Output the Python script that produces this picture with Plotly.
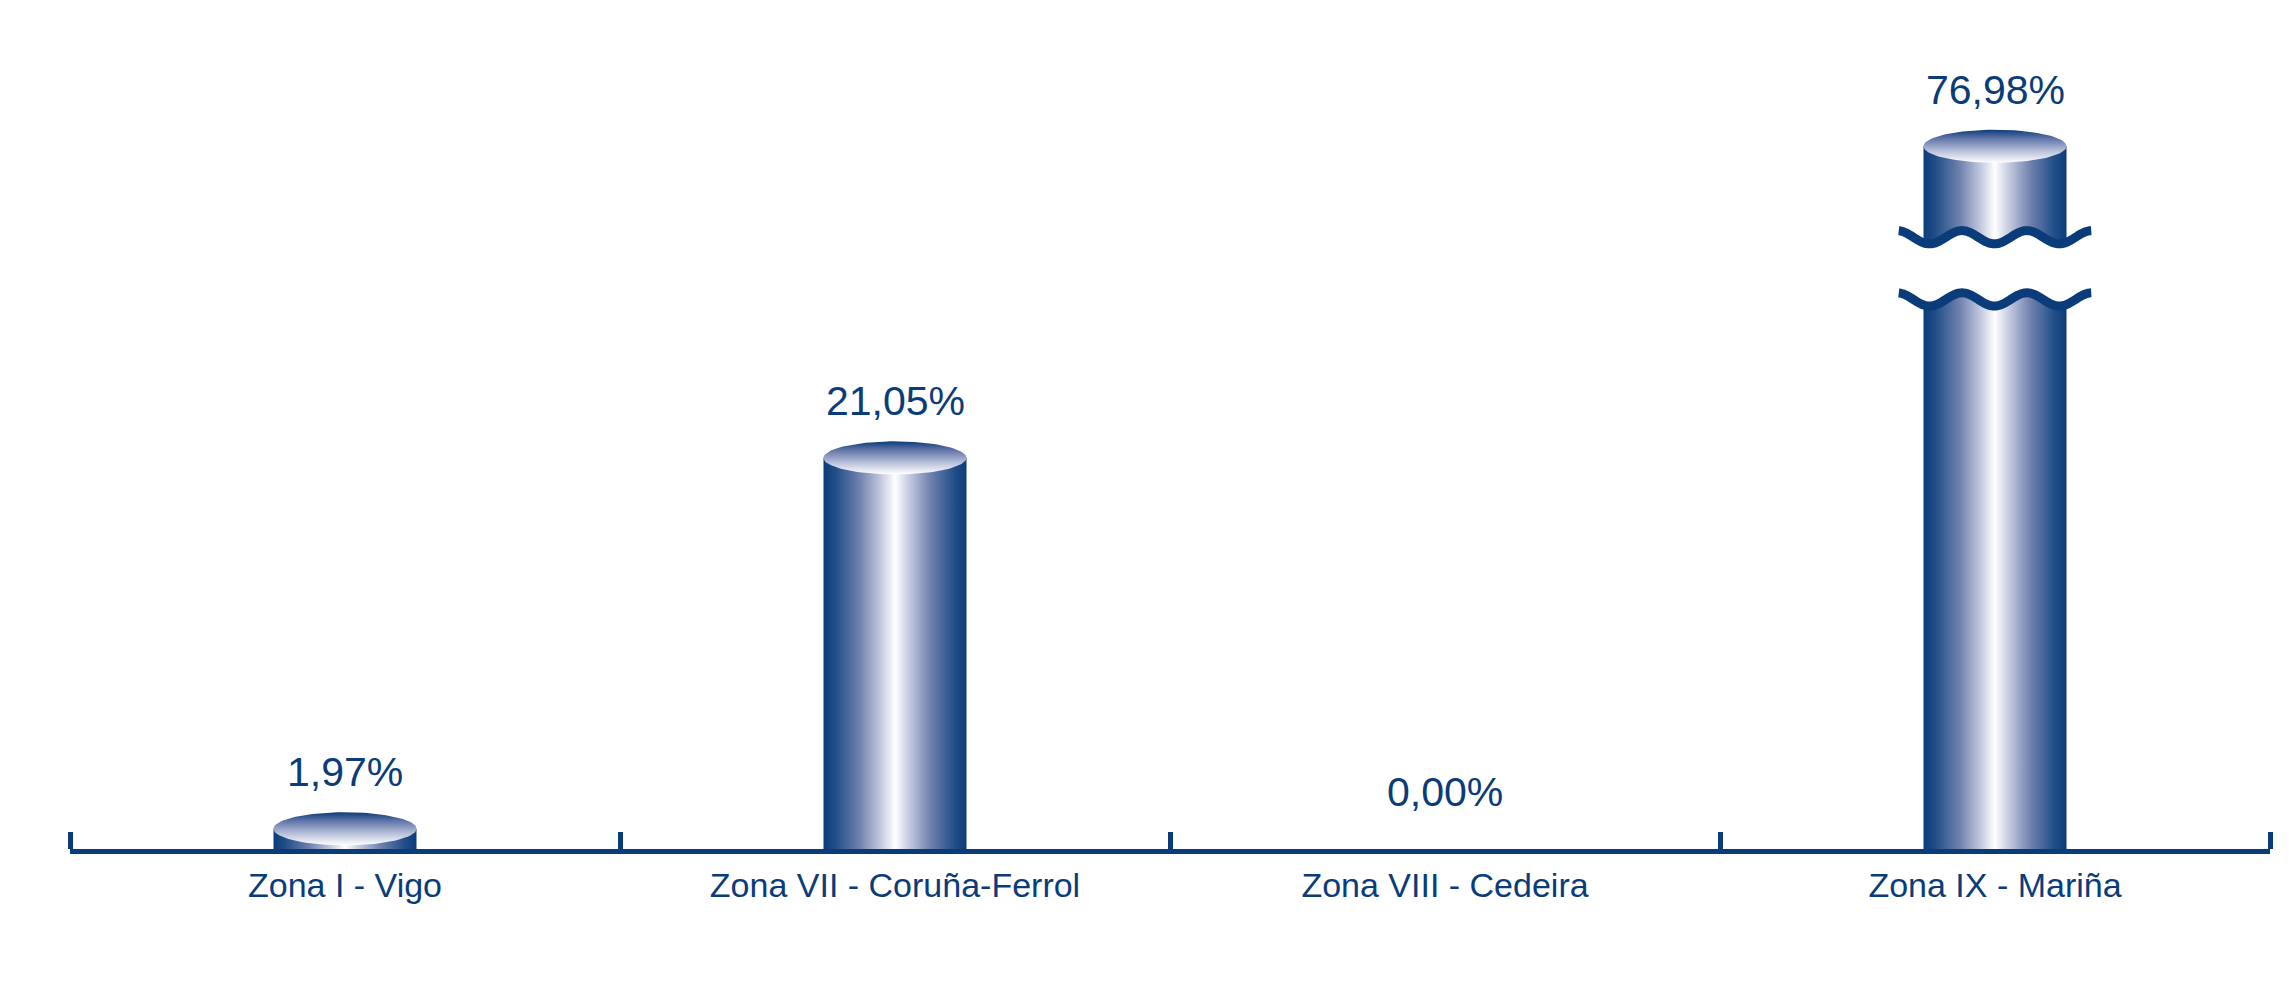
import numpy as np
import plotly.graph_objects as go

# ---- data ----
categories = ["Zona I - Vigo", "Zona VII - Coruña-Ferrol", "Zona VIII - Cedeira", "Zona IX - Mariña"]
values = [1.97, 21.05, 0.00, 76.98]
value_labels = ["1,97%", "21,05%", "0,00%", "76,98%"]

# ---- style / geometry constants ----
DARK = "#0B3C7A"
BREAK_FROM = 29.2      # real value where the broken segment starts
BREAK_TO = 72.3        # real value where the broken segment ends
GAP = 3.2              # plotted height of the gap between the wave lines
SHIFT = BREAK_TO - (BREAK_FROM + GAP)
HALF_W = 0.13          # cylinder half width (category units)
ELL_H = 0.85           # half height of the top ellipse (y units)
WAVE_HALF_W = 0.175
WAVE_AMP = 0.34
WAVE_PERIOD = 0.118

Y0 = 0.93
K = 19.44
PLOT_H = 829

def plot_y(v):
    return v if v <= BREAK_FROM else v - SHIFT

side_scale = [[0.0, DARK], [0.08, "#1F4D87"], [0.25, "#6F80AD"], [0.40, "#C3C9DF"],
              [0.50, "#FFFFFF"], [0.60, "#C3C9DF"], [0.75, "#6F80AD"], [0.92, "#1F4D87"], [1.0, DARK]]
top_scale = [[0.0, "#FFFFFF"], [0.35, "#B9C1DB"], [0.75, "#5D72A6"], [1.0, DARK]]

fig = go.Figure()
t = np.linspace(0, 2 * np.pi, 121)
xs = np.arange(len(categories))

for i, v in enumerate(values):
    if v <= 0:
        continue
    yt = plot_y(v)
    cx = xs[i]
    # cylinder body
    fig.add_trace(go.Scatter(
        x=[cx - HALF_W, cx + HALF_W, cx + HALF_W, cx - HALF_W, cx - HALF_W],
        y=[0, 0, yt, yt, 0], mode="lines", line=dict(width=0),
        fill="toself", fillgradient=dict(type="horizontal", colorscale=side_scale),
        hoverinfo="skip", showlegend=False))
    # top ellipse
    fig.add_trace(go.Scatter(
        x=cx + HALF_W * np.cos(t), y=yt + ELL_H * np.sin(t), mode="lines", line=dict(width=0),
        fill="toself", fillgradient=dict(type="vertical", colorscale=top_scale),
        hoverinfo="skip", showlegend=False))
    # axis break
    if v > BREAK_TO:
        wx = np.linspace(cx - WAVE_HALF_W, cx + WAVE_HALF_W, 240)
        phase = np.cos(2 * np.pi * (wx - (cx - 0.06)) / WAVE_PERIOD) * WAVE_AMP
        low = BREAK_FROM + phase
        high = BREAK_FROM + GAP + phase
        fig.add_trace(go.Scatter(
            x=np.concatenate([wx, wx[::-1]]), y=np.concatenate([low, high[::-1]]),
            mode="lines", line=dict(width=0), fill="toself", fillcolor="white",
            hoverinfo="skip", showlegend=False))
        for yy in (low, high):
            fig.add_trace(go.Scatter(x=wx, y=yy, mode="lines",
                                     line=dict(color=DARK, width=9, shape="spline"),
                                     hoverinfo="skip", showlegend=False))

for i, v in enumerate(values):
    fig.add_annotation(x=xs[i], y=max(plot_y(v), Y0) + ELL_H, text=value_labels[i], showarrow=False,
                       yanchor="middle", yshift=40,
                       font=dict(family="Liberation Sans, Arial", size=41, color=DARK))

fig.update_layout(
    width=2296, height=990,
    margin=dict(l=62, r=34, t=12, b=149),
    paper_bgcolor="white", plot_bgcolor="white",
    xaxis=dict(range=[-0.5, 3.5], tickmode="array", tickvals=list(xs), ticktext=categories,
               showgrid=False, zeroline=False, showline=True, linewidth=5, linecolor=DARK,
               ticks="", ticklabelstandoff=2,
               tickfont=dict(family="Liberation Sans, Arial", size=34, color=DARK),
               minor=dict(tickmode="array", tickvals=[i - 0.5 for i in range(len(categories) + 1)],
                          ticks="inside", ticklen=17, tickwidth=5, tickcolor=DARK, showgrid=False)),
    yaxis=dict(range=[Y0, Y0 + PLOT_H / K], visible=False, showgrid=False, zeroline=False),
)
fig.write_html("out.html")
